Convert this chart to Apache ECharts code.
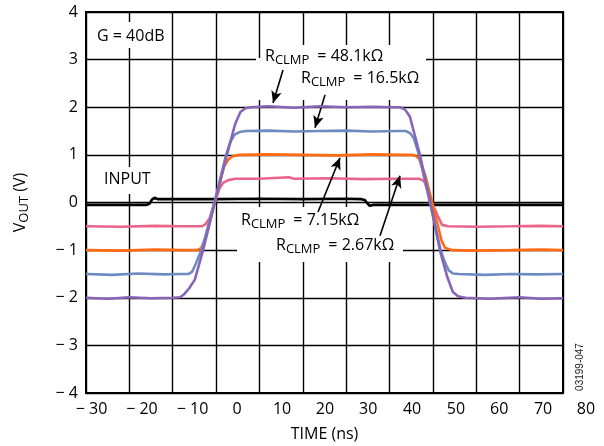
<!DOCTYPE html>
<html><head><meta charset="utf-8">
<script src="https://cdn.jsdelivr.net/npm/echarts@6/dist/echarts.min.js"></script>
<style>html,body{margin:0;padding:0;background:#fff}#c{width:604px;height:446px}</style>
</head><body><div id="c"></div>
<script>
// ---- data ----
const xTicks = [-30,-20,-10,0,10,20,30,40,50,60,70,80];
const yTicks = [-4,-3,-2,-1,0,1,2,3,4];

const purpleT = [-30,-25,-20,-15,-10,-8.3,-7.3,-6.2,-4.9,-3.0,-0.3,2.5,4.4,5.6,6.8,8,12,18,24,30,36,41,42.4,43.6,44.7,47.0,49.3,51.6,53.3,54.6,55.8,57.5,63,70,75,80];
const purpleV = [-2.0,-2.02,-1.99,-2.01,-2.0,-1.99,-1.92,-1.8,-1.62,-1.0,0.0,1.0,1.65,1.9,1.98,2.0,2.02,1.99,2.02,2.0,2.01,2.0,2.0,1.95,1.8,1.0,0.05,-1.0,-1.56,-1.88,-1.97,-2.0,-2.02,-1.99,-2.02,-2.01];

const blueT = [-30,-24,-18,-12,-8,-6.3,-5.5,-4.6,-3.2,-0.4,2.3,3.2,4.2,5.4,7,12,18,24,30,36,42,43.8,44.8,45.6,46.8,49.3,51.8,52.6,53.6,54.6,56,62,68,74,80];
const blueV = [-1.5,-1.52,-1.49,-1.51,-1.5,-1.5,-1.45,-1.27,-0.95,0.0,1.0,1.25,1.42,1.48,1.5,1.51,1.49,1.5,1.51,1.49,1.5,1.5,1.45,1.35,1.0,0.0,-1.0,-1.22,-1.42,-1.49,-1.5,-1.52,-1.5,-1.51,-1.5];

const orangeT = [-30,-22,-14,-8,-4.2,-3.4,-2.6,-2.0,-0.3,1.8,2.8,3.8,5.4,12,20,28,36,43,45.2,46.0,46.8,48.3,49.7,51.0,52.0,52.8,54.4,60,68,75,80];
const orangeV = [-1.0,-1.01,-0.99,-1.0,-1.0,-0.95,-0.78,-0.6,0.0,0.75,0.9,0.97,1.0,1.01,1.0,0.99,1.01,1.0,1.0,0.98,0.92,0.55,0.05,-0.43,-0.8,-0.95,-1.0,-1.01,-1.0,-0.99,-1.0];

const pinkT = [-30,-22,-14,-8,-3.3,-2.5,-1.5,-0.3,0.8,1.6,2.8,4.4,10,16.8,18,26,34,42,46.8,47.6,48.2,49.5,51.0,52.1,53.5,60,68,75,80];
const pinkV = [-0.5,-0.51,-0.49,-0.5,-0.5,-0.46,-0.33,0.0,0.3,0.41,0.47,0.5,0.5,0.53,0.5,0.51,0.49,0.5,0.5,0.47,0.41,0.05,-0.26,-0.47,-0.5,-0.51,-0.5,-0.49,-0.5];

const inputT = [-30,-22,-16,-15.3,-14.8,-14.2,-13.5,-10,0,10,20,30,33.5,34.3,34.9,35.4,36.2,45,60,80];
const inputV = [-0.05,-0.05,-0.05,-0.02,0.06,0.1,0.07,0.07,0.07,0.08,0.07,0.08,0.07,0.05,-0.02,-0.07,-0.05,-0.05,-0.05,-0.05];

const seriesNames = ['RCLMP = 48.1kΩ','RCLMP = 16.5kΩ','RCLMP = 7.15kΩ','RCLMP = 2.67kΩ','INPUT'];
const clampValues = ['48.1kΩ','16.5kΩ','7.15kΩ','2.67kΩ'];
// arrows in data coords
const arrowFrom = [[15.43,2.78],[25.12,2.26],[23.5,-0.2],[37.8,-0.7]];
const arrowTo   = [[13.13,2.09],[22.81,1.57],[28.58,0.94],[42.42,0.56]];

// ---- styles ----
const FONT = 'Open Sans';
const xLabelShift = [5.5,12.6,19.8,21,22.6,22.2,22,22.5,23.1,23,23.4,23];
const colors = {purple:'#8864B6', blue:'#6D8BC1', orange:'#FF6A13', pink:'#E8648A', input:'#000'};

function fmtNum(v){ return v < 0 ? '\u2212 ' + Math.abs(v) : String(v); }
function zip(t, v){ return t.map((x,i)=>[x, v[i]]); }

const xRich = {};
xTicks.forEach((t,i)=>{ xRich['s'+i] = {fontSize:16, fontFamily:FONT, color:'#000', padding:[0,0,0,2*xLabelShift[i]]}; });

const subRich = {
  n:{fontSize:16, fontFamily:FONT, color:'#000', lineHeight:19, padding:[0,0,3,0], verticalAlign:'bottom'},
  e:{fontSize:16, fontFamily:FONT, color:'#000', lineHeight:19, padding:[0,0,3,8], verticalAlign:'bottom'},
  s:{fontSize:13, fontFamily:FONT, color:'#000', lineHeight:15, verticalAlign:'bottom'}
};

function lineSeries(name, t, v, color, z){
  return {name, type:'line', data:zip(t,v), showSymbol:false, symbol:'none', smooth:false,
    lineStyle:{color, width:2.6}, itemStyle:{color}, z, animation:false, silent:true};
}

const chart = echarts.init(document.getElementById('c'), null, {renderer:'canvas'});

const inputSeries = lineSeries(seriesNames[4], inputT, inputV, colors.input, 2);
inputSeries.markLine = {
  silent:true, animation:false, symbol:['none','arrow'], symbolSize:[8,12],
  lineStyle:{color:'#000', width:1.6, type:'solid'}, label:{show:false},
  data: arrowFrom.map((f,i)=>[{coord:f, symbol:'none'},{coord:arrowTo[i], symbol:'arrow'}])
};

function labelText(i){ return '{n|R}{s|CLMP}{e|= ' + clampValues[i] + '}'; }

const option = {
  backgroundColor:'#fff',
  animation:false,
  grid:{left:86, right:41, top:12, bottom:53, show:true, borderColor:'#000', borderWidth:2, outerBoundsMode:'none', containLabel:false},
  xAxis:{
    type:'value', min:-30, max:80, interval:10,
    name:'TIME (ns)', nameLocation:'middle', nameGap:33,
    nameTextStyle:{fontSize:16, fontFamily:FONT, color:'#000'},
    axisLine:{show:true, onZero:false, lineStyle:{color:'#000', width:2}},
    axisTick:{show:false},
    splitLine:{show:true, lineStyle:{color:'#000', width:1.4}},
    axisLabel:{show:true, margin:8, showMinLabel:true, showMaxLabel:true, hideOverlap:false,
      formatter:(v)=>{ const i = xTicks.indexOf(v); return '{s'+i+'|'+fmtNum(v)+'}'; },
      rich:xRich, fontSize:16, fontFamily:FONT, color:'#000'}
  },
  yAxis:{
    type:'value', min:-4, max:4, interval:1,
    name:'{n|V}{s|OUT}{n| (V)}', nameLocation:'middle', nameRotate:90, nameGap:55,
    nameTextStyle:{fontSize:16, fontFamily:FONT, color:'#000', rich:subRich},
    axisLine:{show:true, onZero:false, lineStyle:{color:'#000', width:2}},
    axisTick:{show:false},
    splitLine:{show:true, lineStyle:{color:'#000', width:1.4}},
    axisLabel:{show:true, margin:8, showMinLabel:true, showMaxLabel:true,
      formatter:(v)=>fmtNum(v), fontSize:16, fontFamily:FONT, color:'#000'}
  },
  series:[
    inputSeries,
    lineSeries(seriesNames[3], pinkT, pinkV, colors.pink, 3),
    lineSeries(seriesNames[2], orangeT, orangeV, colors.orange, 4),
    lineSeries(seriesNames[1], blueT, blueV, colors.blue, 5),
    lineSeries(seriesNames[0], purpleT, purpleV, colors.purple, 6)
  ],
  graphic:[
    // white boxes behind annotations (above grid lines, below traces and arrows)
    {type:'rect', shape:{x:92,y:22,width:78,height:26}, style:{fill:'#fff'}, z:1, silent:true},
    {type:'rect', shape:{x:100,y:167,width:54,height:27}, style:{fill:'#fff'}, z:1, silent:true},
    {type:'rect', shape:{x:262,y:45,width:164,height:15}, style:{fill:'#fff'}, z:1, silent:true},
    {type:'rect', shape:{x:256,y:58,width:170,height:42}, style:{fill:'#fff'}, z:1, silent:true},
    {type:'rect', shape:{x:237,y:207,width:166,height:55}, style:{fill:'#fff'}, z:1, silent:true},
    // texts
    {type:'text', x:97, y:27, z:60, silent:true, style:{text:'G = 40dB', font:'16px "Open Sans"', fill:'#000', lineHeight:19, verticalAlign:'top'}},
    {type:'text', x:104, y:170, z:60, silent:true, style:{text:'INPUT', font:'16px "Open Sans"', fill:'#000', lineHeight:19, verticalAlign:'top'}},
    {type:'text', x:265, y:48, z:60, silent:true, style:{text:labelText(0), rich:subRich, verticalAlign:'top'}},
    {type:'text', x:301, y:70, z:60, silent:true, style:{text:labelText(1), rich:subRich, verticalAlign:'top'}},
    {type:'text', x:241, y:212, z:60, silent:true, style:{text:labelText(2), rich:subRich, verticalAlign:'top'}},
    {type:'text', x:276, y:237, z:60, silent:true, style:{text:labelText(3), rich:subRich, verticalAlign:'top'}},
    {type:'text', x:580, y:367, rotation:Math.PI/2, z:60, silent:true, style:{text:'03199-047', font:'10px "Liberation Sans"', fill:'#222', align:'center', verticalAlign:'middle'}}
  ]
};
chart.setOption(option);
</script>
</body></html>
